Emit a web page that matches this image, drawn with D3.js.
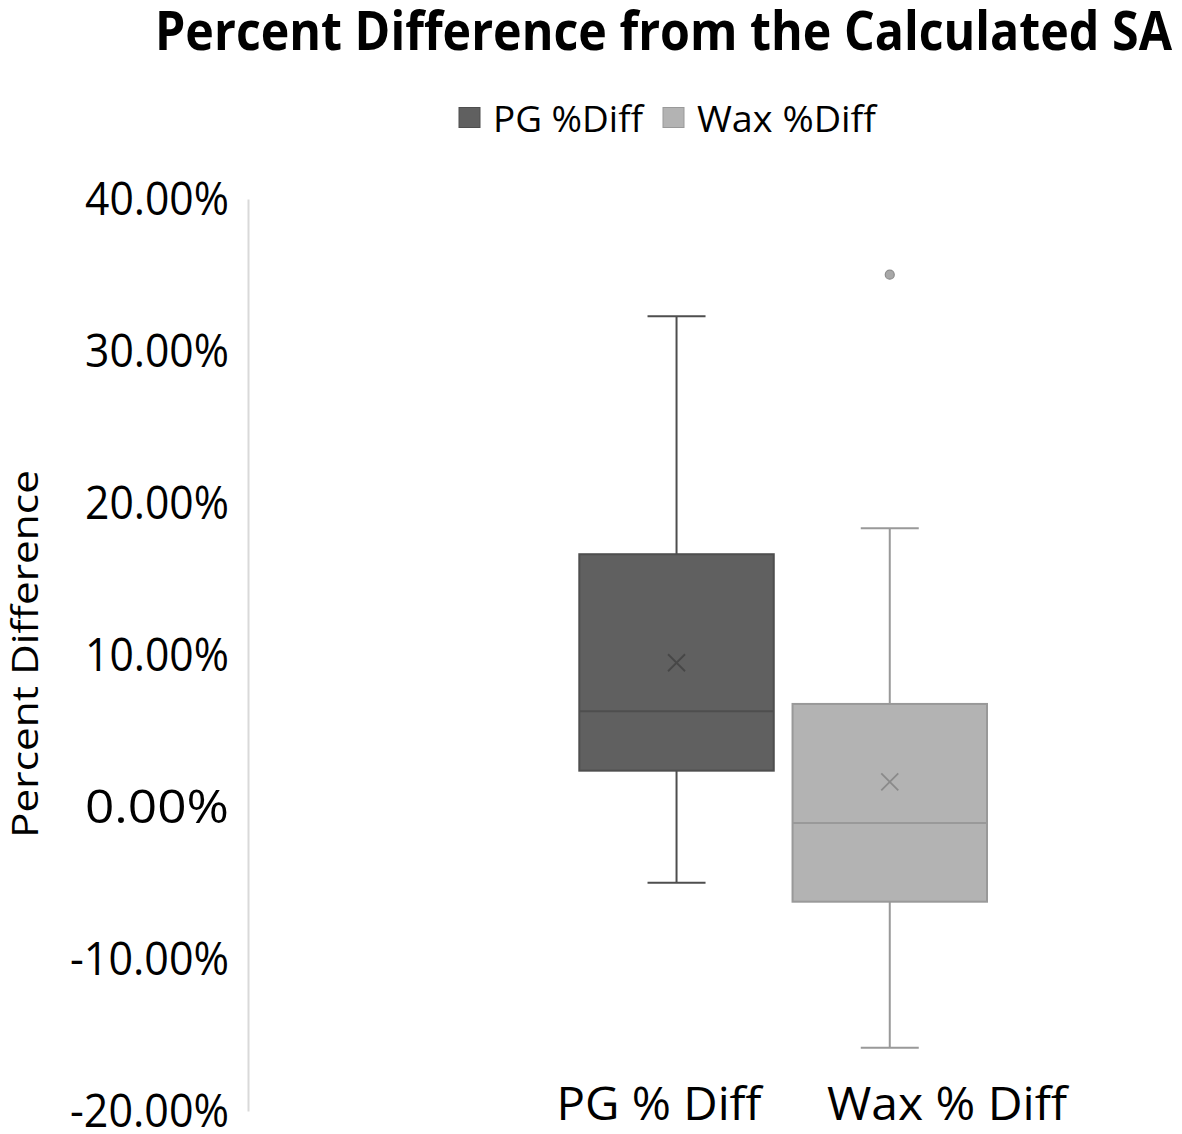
<!DOCTYPE html>
<html>
<head>
<meta charset="utf-8">
<script src="https://cdn.jsdelivr.net/npm/d3@7/dist/d3.min.js"></script>
<style>
  html, body { margin: 0; padding: 0; background: #fff; }
  svg { display: block; }
  text { font-family: "Open Sans", "Noto Sans", sans-serif; fill: #000; }
</style>
</head>
<body>
<svg id="chart" width="1182" height="1134"></svg>
<script>
// ---- data ----
const categories = ["PG % Diff", "Wax % Diff"];
const seriesNames = ["PG %Diff", "Wax %Diff"];
const mins      = [-4.98, -15.84];
const q1s       = [2.39, -6.23];
const medians   = [6.30, -1.05];
const q3s       = [16.63, 6.78];
const maxs      = [32.28, 18.34];
const means     = [9.49, 1.66];
const outliers  = [[], [35.02]];
const yTicks    = [40, 30, 20, 10, 0, -10, -20];

const fills   = ["#606060", "#b3b3b3"];
const strokes = ["#4e4e4e", "#999999"];
const meanCol = ["#474747", "#8a8a8a"];

const svg = d3.select("#chart");

const y = d3.scaleLinear().domain([-20, 40]).range([1111, 199]);
const xBox = d3.scaleBand().domain(seriesNames).range([579.3, 987]).paddingInner(0.088).paddingOuter(0);
const xCat = d3.scalePoint().domain(categories).range([659, 947]);

// title
svg.append("text")
  .attr("x", 155).attr("y", 50)
  .attr("font-size", 53).attr("font-weight", "bold")
  .attr("textLength", 1017).attr("lengthAdjust", "spacingAndGlyphs")
  .text("Percent Difference from the Calculated SA");

// legend
const legX = [459, 663];
const legW = [150, 179];
seriesNames.forEach((s, i) => {
  svg.append("rect").attr("x", legX[i]).attr("y", 107.5).attr("width", 21).attr("height", 20)
    .attr("fill", fills[i]).attr("stroke", strokes[i]).attr("stroke-width", 1);
  svg.append("text").attr("x", legX[i] + 34).attr("y", 132)
    .attr("font-size", 36)
    .attr("textLength", legW[i]).attr("lengthAdjust", "spacingAndGlyphs")
    .text(s);
});

// y axis
const fmt = d3.formatLocale({decimal: ".", thousands: ",", grouping: [3], currency: ["", ""], minus: "-"}).format(".2f");
const yAxis = d3.axisLeft(y).tickValues(yTicks).tickSize(0).tickPadding(19)
  .tickFormat(d => fmt(d) + "%");
const gy = svg.append("g").attr("transform", "translate(248,0)").call(yAxis);
gy.select(".domain").attr("stroke", "#d9d9d9").attr("stroke-width", 2);
gy.selectAll(".tick text")
  .attr("font-size", 45).attr("font-family", "'Open Sans', sans-serif")
  .attr("fill", "#000").attr("dy", "0.35em")
  .each(function(d) {
    d3.select(this).attr("textLength", d < 0 ? 159 : 144).attr("lengthAdjust", "spacingAndGlyphs");
  });

// y axis title
svg.append("text")
  .attr("transform", "translate(38,654) rotate(-90)")
  .attr("text-anchor", "middle")
  .attr("font-size", 37)
  .attr("textLength", 368).attr("lengthAdjust", "spacingAndGlyphs")
  .text("Percent Difference");

// boxes
seriesNames.forEach((s, i) => {
  const x0 = xBox(s), w = xBox.bandwidth(), cx = x0 + w / 2;
  const g = svg.append("g");
  const capW = 58;
  g.append("line").attr("x1", cx).attr("x2", cx).attr("y1", y(maxs[i])).attr("y2", y(q3s[i]))
    .attr("stroke", strokes[i]).attr("stroke-width", 2);
  g.append("line").attr("x1", cx).attr("x2", cx).attr("y1", y(q1s[i])).attr("y2", y(mins[i]))
    .attr("stroke", strokes[i]).attr("stroke-width", 2);
  g.append("line").attr("x1", cx - capW / 2).attr("x2", cx + capW / 2).attr("y1", y(maxs[i])).attr("y2", y(maxs[i]))
    .attr("stroke", strokes[i]).attr("stroke-width", 2);
  g.append("line").attr("x1", cx - capW / 2).attr("x2", cx + capW / 2).attr("y1", y(mins[i])).attr("y2", y(mins[i]))
    .attr("stroke", strokes[i]).attr("stroke-width", 2);
  g.append("rect").attr("x", x0).attr("y", y(q3s[i])).attr("width", w).attr("height", y(q1s[i]) - y(q3s[i]))
    .attr("fill", fills[i]).attr("stroke", strokes[i]).attr("stroke-width", 2);
  g.append("line").attr("x1", x0).attr("x2", x0 + w).attr("y1", y(medians[i])).attr("y2", y(medians[i]))
    .attr("stroke", strokes[i]).attr("stroke-width", 2);
  const my = y(means[i]), r = 8.5;
  g.append("path")
    .attr("d", `M${cx - r},${my - r}L${cx + r},${my + r}M${cx - r},${my + r}L${cx + r},${my - r}`)
    .attr("stroke", meanCol[i]).attr("stroke-width", 1.8).attr("fill", "none");
  outliers[i].forEach(v => {
    g.append("circle").attr("cx", cx).attr("cy", y(v)).attr("r", 4.5)
      .attr("fill", "#a8a8a8").attr("stroke", "#8c8c8c").attr("stroke-width", 1.2);
  });
});

// category labels
const catW = [205, 240];
categories.forEach((c, i) => {
  svg.append("text").attr("x", xCat(c)).attr("y", 1120)
    .attr("text-anchor", "middle").attr("font-size", 46)
    .attr("textLength", catW[i]).attr("lengthAdjust", "spacingAndGlyphs")
    .text(c);
});
</script>
</body>
</html>
